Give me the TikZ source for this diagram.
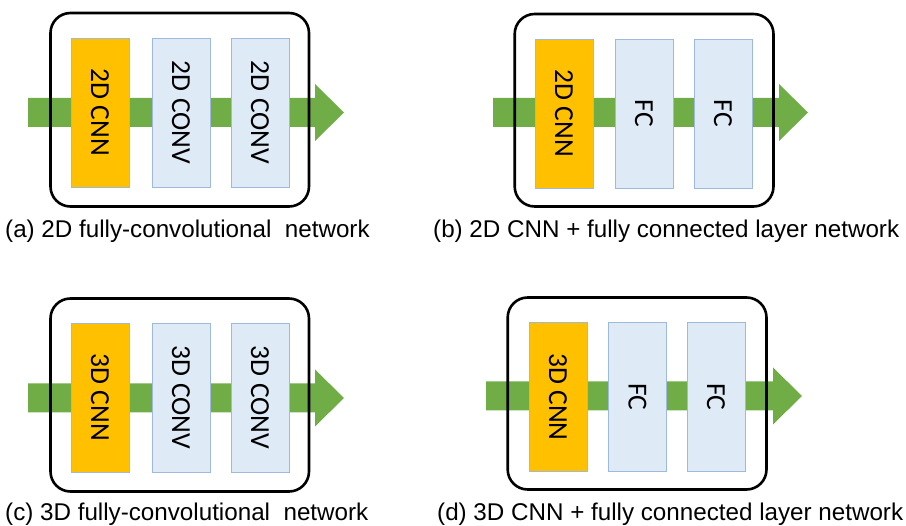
\documentclass[tikz,border=0pt]{standalone}
\usepackage{fontspec}
\setmainfont{Liberation Sans}
\newfontfamily\boxfont{Carlito}
\definecolor{cnnorange}{HTML}{FFC000}
\definecolor{layerblue}{HTML}{DEEBF7}
\definecolor{layeredge}{HTML}{9DB9DC}
\definecolor{flowgreen}{HTML}{70AD47}
\tikzset{
  panel/.style={draw=black, line width=2.6pt, rounded corners=20pt, inner sep=0pt},
  cnnbox/.style={fill=cnnorange, draw=layeredge, line width=0.8pt, minimum width=58pt, minimum height=149pt, inner sep=0pt, font=\boxfont\fontsize{27.5}{30}\selectfont},
  fcbox/.style={cnnbox, fill=layerblue},
  caption/.style={anchor=base west, inner sep=0pt, font=\fontsize{24.2}{28}\selectfont},
}
\newcommand{\flowarrow}[4]{% x0, xhead, xtip, ycenter
  \fill[flowgreen] (#1,#4-14.5) -- (#2,#4-14.5) -- (#2,#4-28.5) -- (#3,#4) -- (#2,#4+28.5) -- (#2,#4+14.5) -- (#1,#4+14.5) -- cycle;}
\newcommand{\vtext}[1]{\rotatebox{-90}{#1}}
\begin{document}
\begin{tikzpicture}[x=1pt,y=-1pt]
\useasboundingbox (0,0) rectangle (906,526);
% ---- (a)
\flowarrow{28}{315}{344}{112.5}
\node[panel, minimum width=258.5pt, minimum height=193.5pt] (pa) at (179.75,109.75) {};
\node[cnnbox] (a1) at (100,112.5) {\vtext{2D CNN}};
\node[fcbox] (a2) at (181,112.5) {\vtext{2D CONV}};
\node[fcbox] (a3) at (260,112.5) {\vtext{2D CONV}};
\node[caption] (ca) at (5,238) {(a) 2D fully-convolutional\ \ network};
% ---- (b)
\flowarrow{493}{779}{808}{112.5}
\node[panel, minimum width=258.8pt, minimum height=192.5pt] (pb) at (644.1,110.25) {};
\node[cnnbox] (b1) at (564,113.5) {\vtext{2D CNN}};
\node[fcbox] (b2) at (644,113.5) {\vtext{FC}};
\node[fcbox] (b3) at (723,113.5) {\vtext{FC}};
\node[caption] (cb) at (433,238) {(b) 2D CNN + fully connected layer network};
% ---- (c)
\flowarrow{28}{315}{344}{398}
\node[panel, minimum width=258.5pt, minimum height=193pt] (pc) at (179.75,395) {};
\node[cnnbox] (c1) at (100,397.5) {\vtext{3D CNN}};
\node[fcbox] (c2) at (181,397.5) {\vtext{3D CONV}};
\node[fcbox] (c3) at (260,397.5) {\vtext{3D CONV}};
\node[caption] (cc) at (5,521) {(c) 3D fully-convolutional\ \ network};
% ---- (d)
\flowarrow{486}{773}{802}{396}
\node[panel, minimum width=258.8pt, minimum height=192pt] (pd) at (637.1,393.5) {};
\node[cnnbox] (d1) at (558,397) {\vtext{3D CNN}};
\node[fcbox] (d2) at (637.5,397) {\vtext{FC}};
\node[fcbox] (d3) at (716,397) {\vtext{FC}};
\node[caption] (cd) at (437,521) {(d) 3D CNN + fully connected layer network};
\end{tikzpicture}
\end{document}
